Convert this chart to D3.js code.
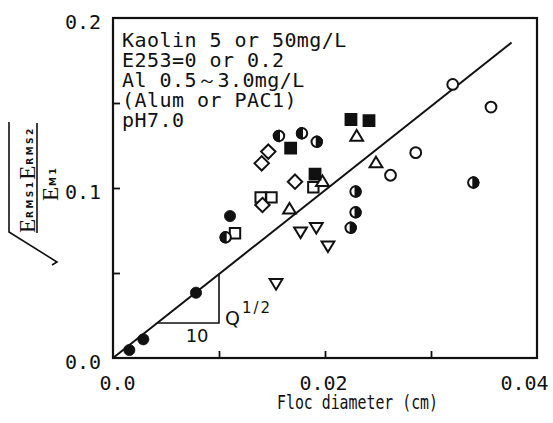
<!DOCTYPE html>
<html><head><meta charset="utf-8">
<script src="https://cdn.jsdelivr.net/npm/d3@7"></script>
<style>body{margin:0;background:#fff}</style>
</head><body>
<svg id="chart" width="553" height="423"></svg>
<script>
// ---- data ----
const xLabelTicks = [0, 0.02, 0.04];
const xTickLabels = ["0.0", "0.02", "0.04"];
const xMinorTicks = [0.01, 0.02, 0.03];
const yLabelTicks = [0, 0.1, 0.2];
const yTickLabels = ["0.0", "0.1", "0.2"];
const yMinorTicks = [0.05, 0.1, 0.15];
const legendLines = ["Kaolin 5 or 50mg/L", "E253=0 or 0.2", "Al 0.5～3.0mg/L", "(Alum or PAC1)", "pH7.0"];
const xTitle = "Floc diameter (cm)";
const fitSlope = 4.935;
const fitXEnd = 0.0376;
const slopeRunEnd = 0.01;
const slopeBaseY = 0.0206;
const slopeRunLabel = "10";
const slopeRiseLabel = ["Q", "1/2"];

const filledCircles = [[0.00154,0.0047],[0.00286,0.0110],[0.00783,0.0384],[0.01104,0.0835]];
const halfCirclesLeft = [[0.01063,0.0710],[0.01566,0.1306],[0.01783,0.1322]];
const halfCirclesRight = [[0.01922,0.1272],[0.02288,0.0979],[0.02288,0.0857],[0.02242,0.0766],[0.03399,0.1032]];
const openCircles = [[0.02618,0.1075],[0.02856,0.1208],[0.03205,0.1609],[0.03566,0.1476]];
const openSquares = [[0.01151,0.0734],[0.01393,0.0945],[0.01495,0.0945],[0.0189,0.1004]];
const filledSquares = [[0.01676,0.1234],[0.01906,0.1082],[0.02245,0.1403],[0.02415,0.1396]];
const diamonds = [[0.01465,0.1214],[0.01403,0.1145],[0.01717,0.1037],[0.0141,0.0900]];
const trianglesUp = [[0.01665,0.0879],[0.01976,0.1041],[0.02299,0.1308],[0.02481,0.1151]];
const trianglesDown = [[0.01538,0.0435],[0.01769,0.0738],[0.01918,0.0765],[0.02028,0.0656]];

// ---- drawing ----
const ink = "#111";
const svg = d3.select("#chart");
svg.append("rect").attr("width",553).attr("height",423).attr("fill","#fff");
const x = d3.scaleLinear().domain([0,0.04]).range([113,537]);
const y = d3.scaleLinear().domain([0,0.2]).range([358,18]);
const mono = "'DejaVu Sans Mono', monospace";

// frame
svg.append("rect").attr("x",x(0)).attr("y",y(0.2)).attr("width",x(0.04)-x(0)).attr("height",y(0)-y(0.2))
  .attr("fill","none").attr("stroke",ink).attr("stroke-width",2.2);

// inward ticks via axes
const xAx = svg.append("g").attr("transform",`translate(0,${y(0)})`)
  .call(d3.axisBottom(x).tickValues(xMinorTicks).tickSize(-7).tickFormat(""));
xAx.select(".domain").remove();
xAx.selectAll("line").attr("stroke",ink).attr("stroke-width",1.8);
const yAx = svg.append("g").attr("transform",`translate(${x(0)},0)`)
  .call(d3.axisLeft(y).tickValues(yMinorTicks).tickSize(-7).tickFormat(""));
yAx.select(".domain").remove();
yAx.selectAll("line").attr("stroke",ink).attr("stroke-width",1.8);

// tick labels
const xl = svg.append("g").attr("transform",`translate(0,390)`)
  .call(d3.axisBottom(x).tickValues(xLabelTicks).tickSize(0).tickFormat((d,i)=>xTickLabels[i]));
xl.select(".domain").remove();
xl.selectAll("text").attr("y",0).attr("dy",0).attr("font-family",mono).attr("font-size",20).attr("fill",ink)
  .attr("dx",(d,i)=> i===0 ? 4 : (i===xTickLabels.length-1 ? -13 : -2));
const yl = svg.append("g").attr("transform",`translate(101,0)`)
  .call(d3.axisLeft(y).tickValues(yLabelTicks).tickSize(0).tickPadding(0).tickFormat((d,i)=>yTickLabels[i]));
yl.select(".domain").remove();
yl.selectAll("text").attr("x",0).attr("dy","0.38em").attr("font-family",mono).attr("font-size",20).attr("fill",ink)
  .attr("transform","translate(0,3)");

// x title
svg.append("text").attr("x",357.5).attr("y",409).attr("text-anchor","middle")
  .attr("font-family",mono).attr("font-size",19).attr("fill",ink)
  .attr("textLength",161).attr("lengthAdjust","spacingAndGlyphs").text(xTitle);

// y label: sqrt(E_RMS1 E_RMS2)/E_M1, rotated
svg.append("path").attr("d","M9,122 L9,232 L57,262 L52,265").attr("fill","none")
  .attr("stroke",ink).attr("stroke-width",1.6);
svg.append("line").attr("x1",37).attr("x2",37).attr("y1",123).attr("y2",233).attr("stroke",ink).attr("stroke-width",1.6);
function fracText(tx, ty, parts){
  const t = svg.append("text").attr("transform",`translate(${tx},${ty}) rotate(-90)`).attr("fill",ink);
  parts.forEach(p=>{
    if(p.big){ t.append("tspan").attr("font-family","'Liberation Serif', serif").attr("font-size",23).attr("dy",p.dy||0).text(p.s); }
    else { t.append("tspan").attr("font-family","'DejaVu Sans', sans-serif").attr("font-weight","bold").attr("font-size",9)
      .attr("letter-spacing",2.4).attr("dy",p.dy||0).attr("dx",1).text(p.s); }
  });
}
fracText(35, 233, [{big:true,s:"E"},{s:"RMS1",dy:-2},{big:true,s:"E",dy:2},{s:"RMS2",dy:-2}]);
fracText(58, 201, [{big:true,s:"E"},{s:"M1",dy:-2}]);

// legend text block
svg.append("g").selectAll("text").data(legendLines).join("text")
  .attr("x",122).attr("y",(d,i)=>47+i*20)
  .attr("font-family",mono).attr("font-size",20).attr("fill",ink)
  .attr("letter-spacing",0.45).text(d=>d);

// fit line
svg.append("line").attr("x1",x(0)).attr("y1",y(0)).attr("x2",x(fitXEnd)).attr("y2",y(fitSlope*fitXEnd))
  .attr("stroke",ink).attr("stroke-width",2);
// slope triangle
const xs0 = slopeBaseY/fitSlope, xs1 = slopeRunEnd;
svg.append("path").attr("d",`M${x(xs0)},${y(slopeBaseY)} L${x(xs1)},${y(slopeBaseY)} L${x(xs1)},${y(fitSlope*xs1)}`)
  .attr("fill","none").attr("stroke",ink).attr("stroke-width",1.6);
svg.append("text").attr("x",x((xs0+xs1)/2)+9).attr("y",y(slopeBaseY)+19).attr("text-anchor","middle")
  .attr("font-family","'DejaVu Sans', sans-serif").attr("font-size",18).attr("fill",ink).text(slopeRunLabel);
const qt = svg.append("text").attr("x",x(xs1)+6).attr("y",y(slopeBaseY)+2)
  .attr("font-family","'DejaVu Sans', sans-serif").attr("font-size",19).attr("fill",ink);
qt.append("tspan").text(slopeRiseLabel[0]);
qt.append("tspan").attr("font-size",15).attr("dy",-12).attr("dx",2).attr("letter-spacing",2).text(slopeRiseLabel[1]);

// markers
const g = svg.append("g").attr("stroke",ink).attr("stroke-width",2);
function pts(data){ return g.append("g").selectAll("path").data(data).join("path")
  .attr("transform",d=>`translate(${x(d[0])},${y(d[1])})`); }
pts(openSquares).attr("d","M-5.2,-5.2H5.2V5.2H-5.2Z").attr("fill","#fff");
pts(diamonds).attr("d","M0,-7.2L7.2,0L0,7.2L-7.2,0Z").attr("fill","#fff");
pts(trianglesUp).attr("d","M0,-5.6L6.4,5L-6.4,5Z").attr("fill","#fff");
pts(trianglesDown).attr("d","M0,5.6L6.4,-5L-6.4,-5Z").attr("fill","#fff");
pts(openCircles).attr("d",d3.symbol(d3.symbolCircle, Math.PI*5.4*5.4)()).attr("fill","#fff");
pts(filledCircles).attr("d",d3.symbol(d3.symbolCircle, Math.PI*5.6*5.6)()).attr("fill",ink).attr("stroke-width",0.8);
const r=5.2;
const hl = g.append("g").selectAll("g").data(halfCirclesLeft).join("g").attr("transform",d=>`translate(${x(d[0])},${y(d[1])})`);
hl.append("circle").attr("r",r).attr("fill","#fff");
hl.append("path").attr("d",`M0,${-r}A${r},${r} 0 0 0 0,${r}Z`).attr("fill",ink);
const hr = g.append("g").selectAll("g").data(halfCirclesRight).join("g").attr("transform",d=>`translate(${x(d[0])},${y(d[1])})`);
hr.append("circle").attr("r",r).attr("fill","#fff");
hr.append("path").attr("d",`M0,${-r}A${r},${r} 0 0 1 0,${r}Z`).attr("fill",ink);
pts(filledSquares).attr("d","M-5.4,-5.4H5.4V5.4H-5.4Z").attr("fill",ink);
</script>
</body></html>
